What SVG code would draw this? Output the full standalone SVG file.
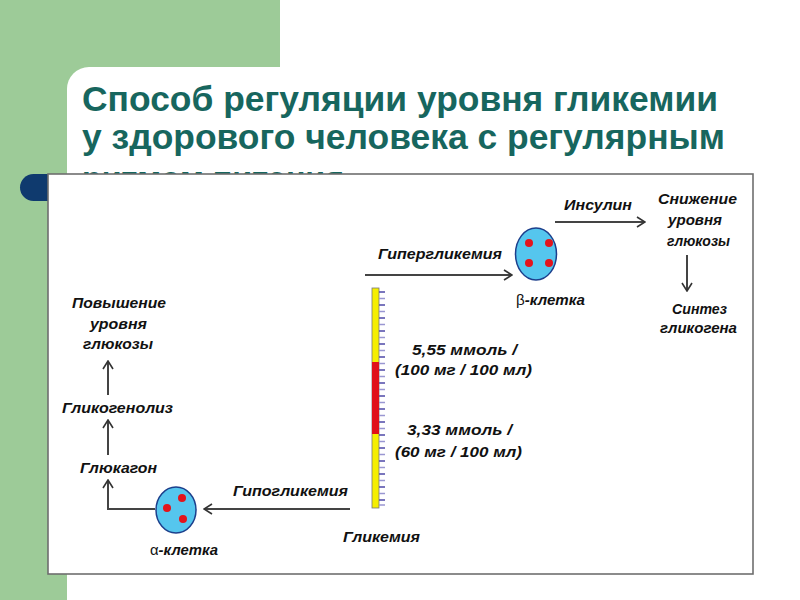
<svg xmlns="http://www.w3.org/2000/svg" width="800" height="600" viewBox="0 0 800 600">
  <style>
    .title { font-family: "Liberation Sans", Arial, sans-serif; font-weight: bold; font-size: 35px; fill: #17665e; }
    .lbl { font-family: "Liberation Sans", Arial, sans-serif; font-weight: bold; font-style: italic; font-size: 15px; fill: #111; }
    .conn { fill: none; stroke: #444; stroke-width: 2; }
    .cell { fill: #55c6ee; stroke: #1c3f8c; stroke-width: 1.5; }
    .dot { fill: #e3141c; }
  </style>
  <defs>
    <marker id="chev" viewBox="0 0 10 12" refX="9" refY="6" markerWidth="10" markerHeight="12" markerUnits="userSpaceOnUse" orient="auto">
      <path d="M1,1 L9,6 L1,11" fill="none" stroke="#333" stroke-width="1.6"/>
    </marker>
  </defs>

  <!-- background -->
  <rect x="0" y="0" width="800" height="600" fill="#ffffff"/>
  <rect x="0" y="0" width="280" height="600" fill="#9dcb98"/>
  <rect x="67" y="67" width="800" height="600" rx="22" fill="#ffffff"/>

  <!-- title -->
  <text class="title" x="82" y="111" textLength="636" lengthAdjust="spacingAndGlyphs">Способ регуляции уровня гликемии</text>
  <text class="title" x="82" y="149" textLength="643" lengthAdjust="spacingAndGlyphs">у здорового человека с регулярным</text>
  <text class="title" x="82" y="191" textLength="262" lengthAdjust="spacingAndGlyphs">ритмом питания</text>

  <!-- bullet -->
  <rect x="20" y="174" width="50" height="27" rx="13.5" fill="#0f3a6e"/>

  <!-- diagram frame -->
  <rect x="48" y="174" width="705" height="400" fill="#ffffff" stroke="#6e6e6e" stroke-width="1.6"/>

  <!-- connectors -->
  <g id="connectors">
    <line class="conn" x1="555" y1="222" x2="645" y2="222" marker-end="url(#chev)"/>
    <line class="conn" x1="687" y1="255" x2="687" y2="291" marker-end="url(#chev)"/>
    <line class="conn" x1="365" y1="275" x2="512" y2="275" marker-end="url(#chev)"/>
    <line class="conn" x1="350" y1="509" x2="204" y2="509" marker-end="url(#chev)"/>
    <polyline class="conn" points="155,509 108,509 108,480" marker-end="url(#chev)"/>
    <line class="conn" x1="108" y1="455" x2="108" y2="420" marker-end="url(#chev)"/>
    <line class="conn" x1="108" y1="395" x2="108" y2="361" marker-end="url(#chev)"/>
  </g>

  <!-- beta cell -->
  <g id="beta-cell">
    <ellipse class="cell" cx="536" cy="254" rx="20.5" ry="26"/>
    <circle class="dot" cx="529" cy="243" r="4"/>
    <circle class="dot" cx="549" cy="243" r="4"/>
    <circle class="dot" cx="529" cy="263" r="4"/>
    <circle class="dot" cx="549" cy="263" r="4"/>
    <text class="lbl" x="516" y="305" textLength="69" lengthAdjust="spacingAndGlyphs"><tspan font-style="normal" font-weight="normal">β</tspan>-клетка</text>
  </g>

  <!-- alpha cell -->
  <g id="alpha-cell">
    <ellipse class="cell" cx="176" cy="510" rx="20" ry="23"/>
    <circle class="dot" cx="182" cy="498" r="4"/>
    <circle class="dot" cx="167" cy="508" r="4"/>
    <circle class="dot" cx="183" cy="519" r="4"/>
    <text class="lbl" x="150" y="555" textLength="68" lengthAdjust="spacingAndGlyphs"><tspan font-style="normal" font-weight="normal">α</tspan>-клетка</text>
  </g>

  <!-- glycemia scale -->
  <g id="scale">
    <rect x="372" y="288" width="7" height="220" fill="#f5ee00" stroke="#777" stroke-width="0.8"/>
    <rect x="372" y="362" width="7" height="72" fill="#e0101a"/>
    <path d="M379,292h6M379,305h6M379,318h6M379,331h6M379,344h6M379,357h6M379,370h6M379,383h6M379,396h6M379,409h6M379,422h6M379,435h6M379,448h6M379,461h6M379,474h6M379,487h6M379,500h6" stroke="#4f4aa8" stroke-width="1.6"/>
    <path d="M379,298.5h6M379,311.5h6M379,324.5h6M379,337.5h6M379,350.5h6M379,363.5h6M379,376.5h6M379,389.5h6M379,402.5h6M379,415.5h6M379,428.5h6M379,441.5h6M379,454.5h6M379,467.5h6M379,480.5h6M379,493.5h6M379,505h6" stroke="#9a97d2" stroke-width="1.6"/>
    <text class="lbl" x="343" y="542" textLength="77" lengthAdjust="spacingAndGlyphs">Гликемия</text>
  </g>

  <g id="threshold-high">
    <text class="lbl" x="412" y="355" textLength="105" lengthAdjust="spacingAndGlyphs">5,55 ммоль /</text>
    <text class="lbl" x="395" y="375" textLength="137" lengthAdjust="spacingAndGlyphs">(100 мг / 100 мл)</text>
  </g>
  <g id="threshold-low">
    <text class="lbl" x="407" y="435" textLength="105" lengthAdjust="spacingAndGlyphs">3,33 ммоль /</text>
    <text class="lbl" x="395" y="457" textLength="127" lengthAdjust="spacingAndGlyphs">(60 мг / 100 мл)</text>
  </g>

  <g id="hyperglycemia">
    <text class="lbl" x="378" y="259" textLength="124" lengthAdjust="spacingAndGlyphs">Гипергликемия</text>
  </g>
  <g id="hypoglycemia">
    <text class="lbl" x="233" y="496" textLength="115" lengthAdjust="spacingAndGlyphs">Гипогликемия</text>
  </g>
  <g id="insulin">
    <text class="lbl" x="564" y="210" textLength="68" lengthAdjust="spacingAndGlyphs">Инсулин</text>
  </g>
  <g id="decrease">
    <text class="lbl" x="658" y="204" textLength="79" lengthAdjust="spacingAndGlyphs">Снижение</text>
    <text class="lbl" x="668" y="225" textLength="54" lengthAdjust="spacingAndGlyphs">уровня</text>
    <text class="lbl" x="667" y="246" textLength="63" lengthAdjust="spacingAndGlyphs">глюкозы</text>
  </g>
  <g id="glycogen-synthesis">
    <text class="lbl" x="672" y="314" textLength="55" lengthAdjust="spacingAndGlyphs">Синтез</text>
    <text class="lbl" x="660" y="333" textLength="77" lengthAdjust="spacingAndGlyphs">гликогена</text>
  </g>
  <g id="increase">
    <text class="lbl" x="72" y="308" textLength="94" lengthAdjust="spacingAndGlyphs">Повышение</text>
    <text class="lbl" x="90" y="329" textLength="57" lengthAdjust="spacingAndGlyphs">уровня</text>
    <text class="lbl" x="83" y="349" textLength="70" lengthAdjust="spacingAndGlyphs">глюкозы</text>
  </g>
  <g id="glycogenolysis">
    <text class="lbl" x="62" y="413" textLength="111" lengthAdjust="spacingAndGlyphs">Гликогенолиз</text>
  </g>
  <g id="glucagon">
    <text class="lbl" x="80" y="473" textLength="77" lengthAdjust="spacingAndGlyphs">Глюкагон</text>
  </g>
</svg>
